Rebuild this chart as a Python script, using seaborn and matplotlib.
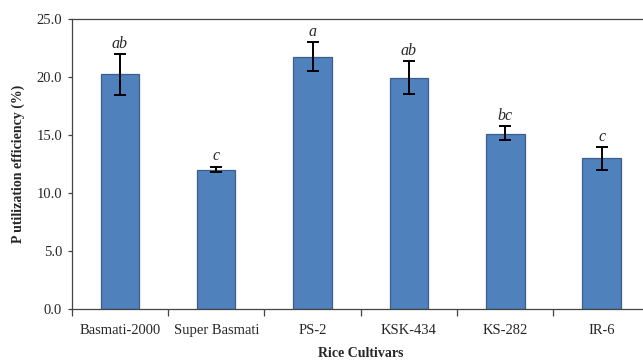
import matplotlib
matplotlib.use("Agg")
import matplotlib.pyplot as plt
import seaborn as sns
import pandas as pd
import numpy as np

cultivars = ["Basmati-2000", "Super Basmati", "PS-2", "KSK-434", "KS-282", "IR-6"]
efficiency = [20.2, 12.0, 21.7, 19.9, 15.1, 13.0]
err_up = [1.75, 0.25, 1.27, 1.43, 0.65, 0.92]
err_down = [1.75, 0.18, 1.25, 1.40, 0.55, 1.00]
letters = ["ab", "c", "a", "ab", "bc", "c"]
yticks = [0.0, 5.0, 10.0, 15.0, 20.0, 25.0]

sns.set_style("white")
plt.rcParams['font.family'] = ['Liberation Serif', 'DejaVu Serif']

df = pd.DataFrame({"cultivar": cultivars, "value": efficiency})

fig = plt.figure(figsize=(6.43, 3.63), dpi=100)
ax = fig.add_axes([0.1115, 0.149, 0.899, 0.8])

sns.barplot(data=df, x="cultivar", y="value", ax=ax, color="#4F81BD",
            width=0.4, edgecolor="#3D5F8C", linewidth=0.9, saturation=1)

pos = np.arange(len(cultivars))
ax.errorbar(pos, efficiency, yerr=[err_down, err_up], fmt="none",
            ecolor="black", elinewidth=1.4, capsize=4, capthick=1.4)

for p, v, e, lab in zip(pos, efficiency, err_up, letters):
    ax.text(p, v + e + 0.2, lab, ha="center", va="bottom", fontsize=11.5,
            style="italic")

ax.set_ylim(0, 25)
ax.set_xlim(-0.5, len(cultivars) - 0.5)
ax.set_yticks(yticks)
ax.set_yticklabels([f"{t:.1f}" for t in yticks], fontsize=10.5)
ax.set_xticks(pos)
ax.set_xticklabels(cultivars, fontsize=10.5)
ax.set_xticks(np.arange(len(cultivars) + 1) - 0.5, minor=True)
ax.tick_params(axis="x", which="major", length=0, pad=11)
ax.tick_params(axis="x", which="minor", length=5, width=0.9, color="#444444", direction="out", bottom=True)
ax.tick_params(axis="y", which="major", length=3, width=0.9, color="#444444", direction="out", left=True, pad=4)

for s in ["left", "bottom", "top", "right"]:
    ax.spines[s].set_color("#444444")
    ax.spines[s].set_linewidth(0.9)

ax.set_xlabel("Rice Cultivars", fontsize=10, fontweight="bold", labelpad=7)
ax.set_ylabel("P utilization efficiency (%)", fontsize=10, fontweight="bold", labelpad=8)

fig.savefig("out.png", dpi=100)
